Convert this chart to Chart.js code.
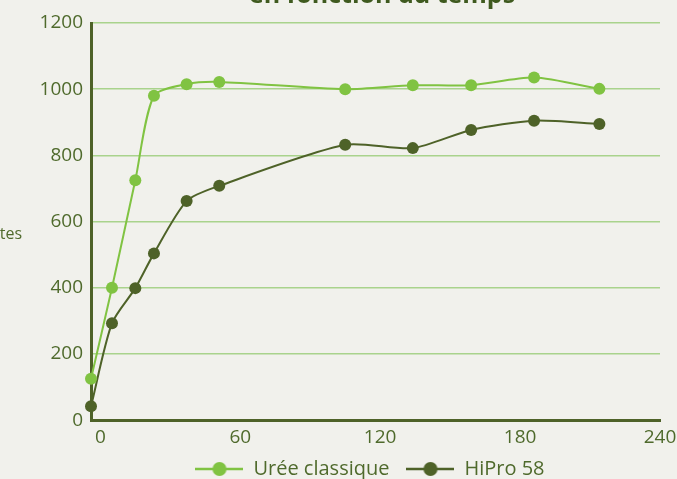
<!DOCTYPE html>
<html>
<head>
<meta charset="utf-8">
<script src="https://cdn.jsdelivr.net/npm/chart.js@4.4.0/dist/chart.umd.min.js"></script>
<style>
  html, body { margin: 0; padding: 0; background: #f1f1ec; overflow: hidden; }
  #wrap { width: 677px; height: 479px; }
</style>
</head>
<body>
<div id="wrap"><canvas id="chart" width="677" height="479"></canvas></div>
<script>
// data
const minutes = [-4, 5, 15, 23, 37, 51, 105, 134, 159, 186, 214];
const ureeClassique = [125, 400, 725, 980, 1015, 1022, 1000, 1012, 1012, 1035, 1001];
const hiPro58 = [42, 293, 399, 504, 662, 708, 832, 822, 877, 905, 895];
const xTicks = [0, 60, 120, 180, 240];
const seriesNames = ['Urée classique', 'HiPro 58'];
const titleText = 'en fonction du temps';
const yTitle = 'Minutes';

const lightGreen = '#80c342';
const darkGreen = '#4e6228';
const gridGreen = '#a9d38c';
const textGreen = '#4f6a2c';
const font = '"Open Sans", sans-serif';

function legendMarker(color) {
  const c = document.createElement('canvas');
  c.width = 48; c.height = 16;
  const g = c.getContext('2d');
  g.strokeStyle = color;
  g.lineWidth = 2.5;
  g.beginPath(); g.moveTo(0, 8); g.lineTo(48, 8); g.stroke();
  g.fillStyle = color;
  g.beginPath(); g.arc(24, 8, 7, 0, Math.PI * 2); g.fill();
  return c;
}

const textPlugin = {
  id: 'extraText',
  afterLayout(chart) {
    // nudge the legend to where it sits in the original
    const lg = chart.legend;
    lg.left += 40; lg.right += 40;
    lg.top -= 5; lg.bottom -= 5;
  },
  afterDraw(chart) {
    const c = chart.ctx;
    c.save();
    c.fillStyle = '#3f5a1f';
    c.font = 'bold 25px ' + font;
    c.textAlign = 'center';
    c.textBaseline = 'alphabetic';
    c.fillText(titleText, 382, 3);
    c.fillStyle = textGreen;
    c.font = '16px ' + font;
    c.textAlign = 'right';
    c.textBaseline = 'middle';
    c.fillText(yTitle, 22, 234);
    c.restore();
  }
};

function toPoints(ys) {
  return minutes.map((x, i) => ({ x: x, y: ys[i] }));
}

const ctx = document.getElementById('chart').getContext('2d');
const chart = new Chart(ctx, {
  type: 'line',
  data: {
    datasets: [{
      label: seriesNames[0],
      data: toPoints(ureeClassique),
      borderColor: lightGreen,
      backgroundColor: lightGreen,
      pointBackgroundColor: lightGreen,
      pointBorderWidth: 0,
      pointRadius: 6,
      borderWidth: 2,
      tension: 0.25,
      clip: false
    }, {
      label: seriesNames[1],
      data: toPoints(hiPro58),
      borderColor: darkGreen,
      backgroundColor: darkGreen,
      pointBackgroundColor: darkGreen,
      pointBorderWidth: 0,
      pointRadius: 6,
      borderWidth: 2,
      tension: 0.25,
      clip: false
    }]
  },
  options: {
    responsive: false,
    animation: false,
    devicePixelRatio: 1,
    events: [],
    layout: { padding: { top: 23, right: 17, left: 0, bottom: -15 } },
    scales: {
      x: {
        type: 'linear',
        min: -4,
        max: 240,
        afterBuildTicks: (scale) => { scale.ticks = xTicks.map(v => ({ value: v })); },
        afterFit: (scale) => { scale.paddingLeft = 0; scale.paddingRight = 0; },
        grid: { display: false },
        border: { display: true, color: darkGreen, width: 3 },
        ticks: { color: textGreen, font: { family: font, size: 19 }, padding: -2, maxRotation: 0 }
      },
      y: {
        min: 0,
        max: 1200,
        ticks: {
          stepSize: 200, color: textGreen, font: { family: font, size: 19 }, padding: 8,
          callback: (v) => String(v)
        },
        afterFit: (scale) => { scale.width = 91; },
        grid: { color: gridGreen, lineWidth: 1.5, drawTicks: false },
        border: { display: true, color: darkGreen, width: 3 }
      }
    },
    plugins: {
      legend: {
        position: 'bottom',
        labels: {
          color: textGreen,
          font: { family: font, size: 20 },
          usePointStyle: true,
          pointStyleWidth: 48,
          boxHeight: 16,
          padding: 17,
          generateLabels: (chart) => chart.data.datasets.map((ds, i) => ({
            text: ds.label,
            fontColor: textGreen,
            pointStyle: legendMarker(ds.borderColor),
            datasetIndex: i,
            hidden: false,
            lineWidth: 0,
            strokeStyle: 'transparent',
            fillStyle: ds.borderColor
          }))
        }
      },
      tooltip: { enabled: false }
    }
  },
  plugins: [textPlugin]
});
</script>
</body>
</html>
